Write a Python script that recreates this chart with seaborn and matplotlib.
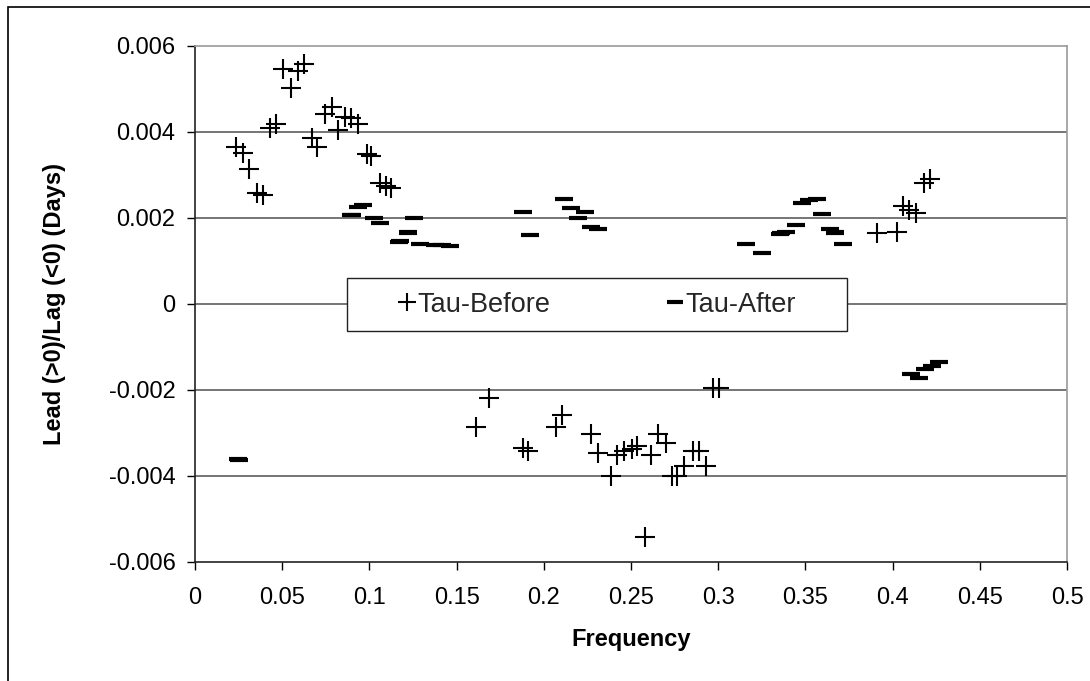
import matplotlib
matplotlib.use("Agg")
import matplotlib.pyplot as plt
from matplotlib.lines import Line2D
from matplotlib.patches import Rectangle
import seaborn as sns
import pandas as pd

# ---------------- data ----------------
before_freq = [0.0235, 0.0277, 0.0311, 0.0354, 0.0388, 0.0431, 0.0462, 0.0503, 0.0549,
               0.0593, 0.0625, 0.0669, 0.0698, 0.0746, 0.0787, 0.0818, 0.0860, 0.0895,
               0.0937, 0.0984, 0.1009, 0.1061, 0.1094, 0.1124,
               0.1610, 0.1685, 0.1879, 0.1908, 0.2070, 0.2106, 0.2269, 0.2309, 0.2385,
               0.2421, 0.2460, 0.2504, 0.2536, 0.2580, 0.2615, 0.2657, 0.2700, 0.2733,
               0.2762, 0.2804, 0.2858, 0.2891, 0.2928, 0.2972, 0.3006,
               0.3908, 0.4024, 0.4062, 0.4096, 0.4132, 0.4180, 0.4215]
before_tau = [0.00365, 0.00352, 0.00313, 0.00257, 0.00253, 0.00409, 0.00418, 0.00546, 0.00502,
              0.00543, 0.00557, 0.00387, 0.00366, 0.00441, 0.00457, 0.00405, 0.00435, 0.00432,
              0.00418, 0.00348, 0.00344, 0.00282, 0.00274, 0.00270,
              -0.00285, -0.00218, -0.00334, -0.00342, -0.00285, -0.00258, -0.00302, -0.00347, -0.00400,
              -0.00350, -0.00342, -0.00338, -0.00330, -0.00543, -0.00351, -0.00303, -0.00324, -0.00400,
              -0.00400, -0.00377, -0.00342, -0.00342, -0.00377, -0.00196, -0.00196,
              0.00166, 0.00167, 0.00228, 0.00218, 0.00212, 0.00282, 0.00290]

after_freq = [0.0248, 0.0250, 0.0893, 0.0903, 0.0937, 0.0966, 0.1024, 0.1061, 0.1171, 0.1175,
              0.1219, 0.1223, 0.1258, 0.1292, 0.1376, 0.1415, 0.1462,
              0.1879, 0.1921, 0.2116, 0.2155, 0.2194, 0.2236, 0.2269, 0.2313,
              0.3162, 0.3252, 0.3357, 0.3361, 0.3391, 0.3444, 0.3480, 0.3520, 0.3565,
              0.3597, 0.3639, 0.3667, 0.3671, 0.3718,
              0.4106, 0.4150, 0.4185, 0.4226, 0.4268]
after_tau = [-0.00361, -0.00363, 0.00206, 0.00208, 0.00226, 0.00230, 0.00201, 0.00188, 0.00145, 0.00147,
             0.00166, 0.00168, 0.00200, 0.00140, 0.00137, 0.00137, 0.00135,
             0.00213, 0.00161, 0.00244, 0.00223, 0.00200, 0.00213, 0.00178, 0.00174,
             0.00139, 0.00118, 0.00163, 0.00165, 0.00168, 0.00184, 0.00236, 0.00241, 0.00245,
             0.00210, 0.00174, 0.00165, 0.00167, 0.00139,
             -0.00163, -0.00173, -0.00150, -0.00144, -0.00134]

x_ticks = [0, 0.05, 0.1, 0.15, 0.2, 0.25, 0.3, 0.35, 0.4, 0.45, 0.5]
x_tick_labels = ["0", "0.05", "0.1", "0.15", "0.2", "0.25", "0.3", "0.35", "0.4", "0.45", "0.5"]
y_ticks = [-0.006, -0.004, -0.002, 0, 0.002, 0.004, 0.006]
y_tick_labels = ["-0.006", "-0.004", "-0.002", "0", "0.002", "0.004", "0.006"]

series_names = ["Tau-Before", "Tau-After"]
x_label = "Frequency"
y_label = "Lead (>0)/Lag (<0) (Days)"

# ---------------- style ----------------
sns.set_theme(style="white")
plt.rcParams["font.family"] = ["Liberation Sans", "DejaVu Sans"]

fig = plt.figure(figsize=(10.9, 6.81), dpi=100)
ax = fig.add_axes([195 / 1090, 1 - 562 / 681, 872 / 1090, 516 / 681])

df_before = pd.DataFrame({"freq": before_freq, "tau": before_tau})
df_after = pd.DataFrame({"freq": after_freq, "tau": after_tau})

sns.scatterplot(data=df_before, x="freq", y="tau", marker="+", s=200,
                color="black", linewidth=1.5, ax=ax, legend=False, zorder=3)
sns.scatterplot(data=df_after, x="freq", y="tau", marker="_", s=150,
                color="black", linewidth=3.0, ax=ax, legend=False, zorder=3)

ax.set_xlim(0, 0.5)
ax.set_ylim(-0.006, 0.006)
ax.set_xticks(x_ticks)
ax.set_xticklabels(x_tick_labels)
ax.set_yticks(y_ticks)
ax.set_yticklabels(y_tick_labels)

ax.grid(False)
for yv in y_ticks[1:-1]:
    ax.axhline(yv, color="#505050", lw=1.1, zorder=1)

ax.tick_params(axis="both", which="major", labelsize=17, colors="black",
               direction="out", length=6, width=1.0, bottom=True, left=True)
ax.tick_params(axis="x", pad=12)
ax.tick_params(axis="y", pad=8)

for side in ["left", "bottom"]:
    ax.spines[side].set_color("#222222")
    ax.spines[side].set_linewidth(1.2)
for side in ["top", "right"]:
    ax.spines[side].set_color("#999999")
    ax.spines[side].set_linewidth(1.2)

ax.set_xlabel(x_label, fontsize=17, fontweight="bold", color="black")
ax.set_ylabel(y_label, fontsize=17, fontweight="bold", color="black")
ax.xaxis.set_label_coords(0.5, -0.127)
ax.yaxis.set_label_coords(-0.148, 0.5)

# legend box
ax.add_patch(Rectangle((0.174, 0.448), 0.574, 0.102, transform=ax.transAxes,
                       facecolor="white", edgecolor="#222222", lw=1.0, zorder=4))
handles = [
    Line2D([], [], linestyle="none", marker="+", markersize=12.5, markeredgewidth=1.5, color="black"),
    Line2D([], [], linestyle="none", marker="_", markersize=11, markeredgewidth=3.0, color="black"),
]
leg = ax.legend(handles, series_names, loc="center", bbox_to_anchor=(0.461, 0.499),
                ncol=2, frameon=False, fontsize=19.5, handlelength=0.65,
                handletextpad=0.05, columnspacing=4.3)
leg.set_zorder(5)

# outer chart border (left and top visible)
fig.patches.append(Rectangle((8 / 1090, -0.2), 1.5, 1 - 7 / 681 + 0.2,
                             transform=fig.transFigure, fill=False,
                             edgecolor="black", lw=1.2))

fig.savefig("out.png", dpi=100, facecolor="white")
